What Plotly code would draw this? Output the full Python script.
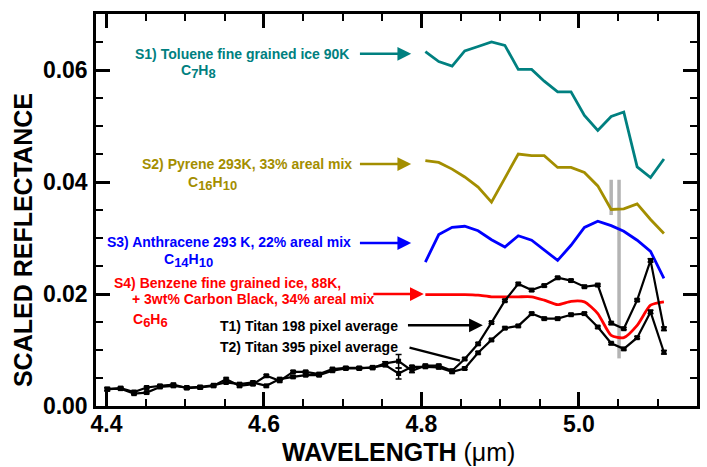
import plotly.graph_objects as go

# Wavelength grid (micrometres) of the instrument channels
wavelength = [4.401, 4.418, 4.435, 4.451, 4.468, 4.485, 4.502, 4.519, 4.536, 4.552,
              4.569, 4.586, 4.603, 4.620, 4.637, 4.653, 4.670, 4.687, 4.704, 4.721,
              4.738, 4.754, 4.771, 4.788, 4.805, 4.822, 4.839, 4.855, 4.872, 4.889,
              4.906, 4.923, 4.940, 4.956, 4.973, 4.990, 5.007, 5.024, 5.041, 5.057,
              5.074, 5.091, 5.108]
lab_wavelength = wavelength[24:]

# Titan spectra
titan_198 = [0.0030, 0.0032, 0.0025, 0.0033, 0.0036, 0.0038, 0.0032, 0.0033, 0.0036, 0.0048,
             0.0036, 0.0039, 0.0054, 0.0045, 0.0061, 0.0061, 0.0057, 0.0066, 0.0068, 0.0068,
             0.0068, 0.0076, 0.0080, 0.0063, 0.0072, 0.0072, 0.0063, 0.0084, 0.0111, 0.0149,
             0.0188, 0.0218, 0.0207, 0.0215, 0.0229, 0.0224, 0.0213, 0.0216, 0.0148, 0.0138,
             0.0189, 0.0260, 0.0138]
titan_198_err = [0.0003, 0.0002, 0.0002, 0.0002, 0.0002, 0.0002, 0.0002, 0.0002, 0.0002, 0.0002,
                 0.0002, 0.0002, 0.0002, 0.0002, 0.0002, 0.0002, 0.0002, 0.0002, 0.0002, 0.0002,
                 0.0002, 0.0003, 0.0012, 0.0003, 0.0002, 0.0002, 0.0002, 0.0002, 0.0002, 0.0002,
                 0.0002, 0.0002, 0.0002, 0.0002, 0.0002, 0.0002, 0.0002, 0.0002, 0.0002, 0.0002,
                 0.0002, 0.0003, 0.0003]
titan_395 = [0.0030, 0.0031, 0.0022, 0.0024, 0.0034, 0.0036, 0.0033, 0.0034, 0.0037, 0.0042,
             0.0039, 0.0042, 0.0036, 0.0048, 0.0052, 0.0055, 0.0055, 0.0063, 0.0067, 0.0067,
             0.0069, 0.0073, 0.0058, 0.0070, 0.0070, 0.0069, 0.0061, 0.0067, 0.0095, 0.0118,
             0.0139, 0.0143, 0.0165, 0.0156, 0.0156, 0.0163, 0.0165, 0.0141, 0.0112, 0.0102,
             0.0122, 0.0168, 0.0096]
titan_395_err = [0.0002, 0.0002, 0.0002, 0.0002, 0.0002, 0.0002, 0.0002, 0.0002, 0.0002, 0.0002,
                 0.0002, 0.0002, 0.0002, 0.0002, 0.0002, 0.0002, 0.0002, 0.0002, 0.0002, 0.0002,
                 0.0002, 0.0002, 0.0010, 0.0002, 0.0002, 0.0002, 0.0002, 0.0002, 0.0002, 0.0002,
                 0.0002, 0.0002, 0.0002, 0.0002, 0.0002, 0.0002, 0.0002, 0.0002, 0.0002, 0.0002,
                 0.0002, 0.0003, 0.0003]

# Laboratory spectra, scaled
toluene = [0.0633, 0.0615, 0.0607, 0.0634, 0.0642, 0.0650, 0.0644, 0.0601, 0.0601, 0.0580,
           0.0561, 0.0561, 0.0519, 0.0492, 0.0517, 0.0525, 0.0427, 0.0408, 0.0441]
pyrene = [0.0438, 0.0435, 0.0423, 0.0409, 0.0391, 0.0364, 0.0407, 0.0450, 0.0447, 0.0447,
          0.0426, 0.0426, 0.0417, 0.0393, 0.0351, 0.0352, 0.0361, 0.0333, 0.0308]
anthracene = [0.0257, 0.0306, 0.0319, 0.0321, 0.0313, 0.0297, 0.0284, 0.0304, 0.0296, 0.0278,
              0.0260, 0.0287, 0.0319, 0.0330, 0.0322, 0.0312, 0.0296, 0.0276, 0.0228]
benzene = [0.0199, 0.0199, 0.0199, 0.0199, 0.0198, 0.0195, 0.0195, 0.0195, 0.0195, 0.0189,
           0.0181, 0.0187, 0.0186, 0.0165, 0.0126, 0.0122, 0.0144, 0.0180, 0.0186]

# Band-position markers
marker_a_x = [5.041, 5.041]
marker_a_y = [0.0341, 0.0404]
marker_b_x = [5.051, 5.051]
marker_b_y = [0.0085, 0.0404]

TEAL = "#008080"
OLIVE = "#A38E00"
BLUE = "#0000FF"
RED = "#FF0000"
FONT = "Liberation Sans, Arial, Helvetica, sans-serif"

fig = go.Figure()

for xs, ys in [(marker_a_x, marker_a_y), (marker_b_x, marker_b_y)]:
    fig.add_trace(go.Scatter(x=xs, y=ys, mode="lines",
                             line=dict(color="#B4B4B4", width=3.5), hoverinfo="skip"))

for ys, col in [(toluene, TEAL), (pyrene, OLIVE), (anthracene, BLUE)]:
    fig.add_trace(go.Scatter(x=lab_wavelength, y=ys, mode="lines",
                             line=dict(color=col, width=2.8)))
fig.add_trace(go.Scatter(x=lab_wavelength, y=benzene, mode="lines",
                         line=dict(color=RED, width=2.8, shape="spline", smoothing=0.6)))

for ys, err in [(titan_395, titan_395_err), (titan_198, titan_198_err)]:
    fig.add_trace(go.Scatter(
        x=wavelength, y=ys, mode="lines+markers",
        line=dict(color="black", width=2.2),
        marker=dict(symbol="square", size=5, color="black"),
        error_y=dict(type="data", array=err, color="black", thickness=1.5, width=3),
    ))

lab_font = dict(family=FONT, size=14, weight="bold")


def formula(*parts):
    """Chemical formula with enlarged subscripts: formula('C', '7', 'H', '8')."""
    out = ""
    for k, p in enumerate(parts):
        if k % 2 == 0:
            out += p
        else:
            out += "<sub><span style='font-size:13px'>%s</span></sub>" % p
    return out


def label(text, x, y, color, xanchor="right"):
    fig.add_annotation(x=x, y=y, xref="x", yref="y", text=text, showarrow=False,
                       xanchor=xanchor, yanchor="middle",
                       font=dict(lab_font, color=color))


def arrow(x0, x1, y0, y1, color, head=2):
    fig.add_annotation(x=x1, y=y1, ax=x0, ay=y0, xref="x", yref="y",
                       axref="x", ayref="y", text="", showarrow=True,
                       arrowhead=head, arrowsize=1.1, arrowwidth=2.5,
                       arrowcolor=color, standoff=0, startstandoff=0)


label("S1) Toluene fine grained ice 90K", 4.710, 0.0629, TEAL)
label(formula("C", "7", "H", "8"), 4.517, 0.0597, TEAL, "center")
arrow(4.720, 4.787, 0.0629, 0.0629, TEAL)

label("S2) Pyrene 293K, 33% areal mix", 4.714, 0.0432, OLIVE)
label(formula("C", "16", "H", "10"), 4.535, 0.0397, OLIVE, "center")
arrow(4.720, 4.787, 0.0432, 0.0432, OLIVE)

label("S3) Anthracene 293 K, 22% areal mix", 4.713, 0.0292, BLUE)
label(formula("C", "14", "H", "10"), 4.504, 0.0259, BLUE, "center")
arrow(4.720, 4.787, 0.0291, 0.0291, BLUE)

label("S4) Benzene fine grained ice, 88K,", 4.407, 0.0219, RED, "left")
label("+ 3wt% Carbon Black, 34% areal mix", 4.430, 0.0191, RED, "left")
label(formula("C", "6", "H", "6"), 4.456, 0.0152, RED, "center")
arrow(4.737, 4.803, 0.0200, 0.0200, RED)

label("T1) Titan 198 pixel average", 4.773, 0.0142, "black")
arrow(4.781, 4.878, 0.0144, 0.0144, "black")
label("T2) Titan 395 pixel average", 4.773, 0.0105, "black")
arrow(4.783, 4.849, 0.0105, 0.0081, "black", head=0)

# Axis titles
fig.add_annotation(x=-0.121, y=0.424, xref="paper", yref="paper",
                   text="SCALED REFLECTANCE", textangle=-90, showarrow=False,
                   xanchor="center", yanchor="middle",
                   font=dict(family=FONT, size=25, color="black", weight="bold"))
fig.add_annotation(x=0.503, y=-0.117, xref="paper", yref="paper",
                   text="<b>WAVELENGTH</b> (\u03bcm)", showarrow=False,
                   xanchor="center", yanchor="middle",
                   font=dict(family=FONT, size=25, color="black"))

axis_common = dict(showgrid=False, zeroline=False, showline=True, linecolor="black",
                   linewidth=2.5, mirror="ticks", ticks="inside", ticklen=14,
                   tickwidth=2.5, tickcolor="black",
                   tickfont=dict(family=FONT, size=23, color="black", weight="bold"))

fig.update_xaxes(range=[4.3867, 5.15], tick0=4.4, dtick=0.2, tickformat=".1f",
                 ticklabelstandoff=-4,
                 minor=dict(dtick=0.05, tick0=4.4, ticks="inside", ticklen=7,
                            tickwidth=2, tickcolor="black", showgrid=False),
                 **axis_common)
fig.update_yaxes(range=[0, 0.07], tick0=0, dtick=0.02, tickformat=".2f",
                 ticklabelstandoff=1,
                 minor=dict(dtick=0.005, tick0=0, ticks="inside", ticklen=7,
                            tickwidth=2, tickcolor="black", showgrid=False),
                 **axis_common)

fig.update_layout(width=707, height=467, showlegend=False,
                  margin=dict(l=96, r=7, t=14, b=61),
                  plot_bgcolor="white", paper_bgcolor="white")

fig.write_html("out.html")
